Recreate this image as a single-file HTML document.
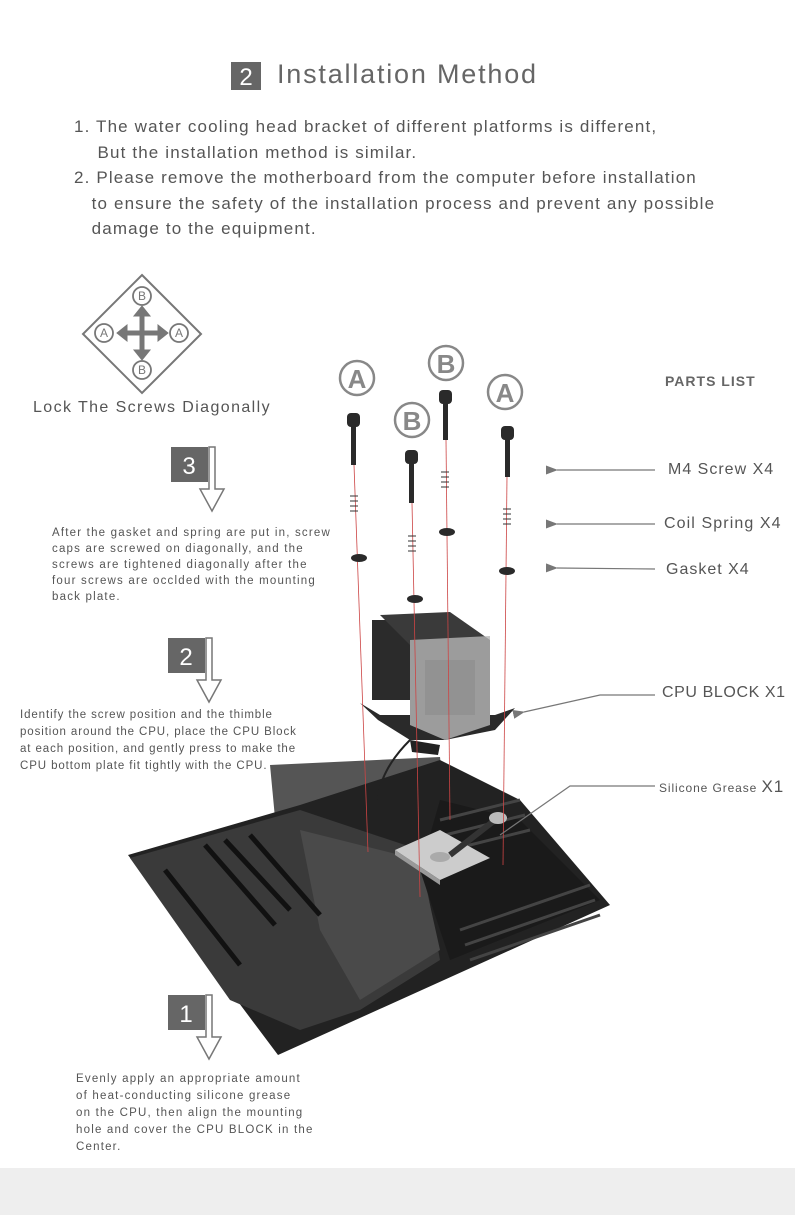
<!DOCTYPE html>
<html><head><meta charset="utf-8"><style>
body{margin:0;width:795px;height:1215px;background:#fff;position:relative;overflow:hidden;font-family:"Liberation Sans",sans-serif;color:#555}
.t{position:absolute;white-space:nowrap}
</style></head><body>
<svg width="795" height="1215" style="position:absolute;left:0;top:0">
<defs><marker id="ah" markerWidth="12" markerHeight="9" refX="1" refY="4.5" orient="auto" markerUnits="userSpaceOnUse"><path d="M12,0 L0,4.5 L12,9 Z" fill="#777"/></marker></defs>
<rect x="231" y="62" width="30" height="28" fill="#666"/>
<text x="246" y="85" font-size="24" fill="#fff" text-anchor="middle" font-family="Liberation Sans">2</text>
<!-- diamond -->
<polygon points="142,275 201,334 142,393 83,334" fill="none" stroke="#777" stroke-width="2"/>
<g stroke="#777" fill="#777"><line x1="124" y1="333" x2="161" y2="333" stroke-width="5"/><line x1="142" y1="314" x2="142" y2="352" stroke-width="5"/>
<polygon points="117,333 127,325 127,341"/><polygon points="168,333 158,325 158,341"/><polygon points="142,306 134,316 150,316"/><polygon points="142,360 134,350 150,350"/></g>
<g fill="#fff" stroke="#777" stroke-width="1.8"><circle cx="142" cy="296" r="9"/><circle cx="142" cy="370" r="9"/><circle cx="104" cy="333" r="9"/><circle cx="179" cy="333" r="9"/></g>
<g fill="#777" font-size="12" text-anchor="middle"><text x="142" y="300">B</text><text x="142" y="374">B</text><text x="104" y="337">A</text><text x="179" y="337">A</text></g>
<!-- step boxes -->
<g fill="#666"><rect x="171" y="447" width="37" height="35"/><rect x="168" y="638" width="37" height="35"/><rect x="168" y="995" width="37" height="35"/></g>
<g fill="none" stroke="#777" stroke-width="1.5">
<path d="M209,447 H215 V489 H224 L212,511 L200,489 H209 Z"/>
<path d="M206,638 H212 V680 H221 L209,702 L197,680 H206 Z"/>
<path d="M206,995 H212 V1037 H221 L209,1059 L197,1037 H206 Z"/></g>
<g fill="#fff" font-size="24" text-anchor="middle"><text x="189" y="474">3</text><text x="186" y="665">2</text><text x="186" y="1022">1</text></g>
<!-- motherboard -->
<polygon points="270,765 440,757 445,805 275,818" fill="#555"/>
<polygon points="128,855 300,805 440,760 520,800 610,905 278,1055" fill="#222"/>
<polygon points="130,858 300,810 420,850 440,960 360,1010 300,1030 230,1000" fill="#3a3a3a"/>
<polygon points="300,830 420,860 440,950 360,1000 320,930" fill="#4a4a4a"/>
<polygon points="440,800 520,820 600,900 450,960 420,870" fill="#1a1a1a"/>
<g stroke="#444" stroke-width="3"><line x1="440" y1="820" x2="520" y2="800"/><line x1="445" y1="835" x2="525" y2="815"/><line x1="450" y1="850" x2="530" y2="830"/><line x1="460" y1="930" x2="590" y2="885"/><line x1="465" y1="945" x2="595" y2="900"/><line x1="470" y1="960" x2="600" y2="915"/></g>
<g stroke="#111" stroke-width="5"><line x1="205" y1="845" x2="275" y2="925"/><line x1="225" y1="840" x2="290" y2="910"/><line x1="250" y1="835" x2="320" y2="915"/><line x1="165" y1="870" x2="240" y2="965"/></g>
<polygon points="395,850 440,830 490,858 440,880" fill="#ccc"/>
<polygon points="395,850 440,880 440,885 395,855" fill="#999"/>
<ellipse cx="440" cy="857" rx="10" ry="5" fill="#aaa"/>
<line x1="450" y1="855" x2="495" y2="820" stroke="#333" stroke-width="6"/>
<ellipse cx="498" cy="818" rx="9" ry="6" fill="#bbb"/>
<!-- cpu block -->
<polygon points="360,703 380,715 495,715 515,708 495,730 445,740 410,740 378,720" fill="#2a2a2a"/>
<rect x="372" y="620" width="40" height="80" fill="#2b2b2b"/>
<polygon points="380,615 450,612 490,640 490,725 445,740 410,725 410,645" fill="#3a3a3a"/>
<polygon points="410,640 490,636 490,725 445,740 410,725" fill="#b5b5b5" opacity="0.8"/>
<rect x="425" y="660" width="50" height="55" fill="#888" opacity="0.5"/>
<polygon points="410,740 440,745 438,755 412,752" fill="#222"/>
<path d="M410,740 Q380,770 378,800" stroke="#222" stroke-width="2" fill="none"/>
<!-- red lines -->
<g stroke="#c44" stroke-width="0.8"><line x1="354" y1="465" x2="368" y2="852"/><line x1="412" y1="503" x2="420" y2="897"/><line x1="446" y1="440" x2="450" y2="820"/><line x1="507" y1="476" x2="503" y2="865"/></g>
<!-- screws -->
<g fill="#2a2a2a">
<rect x="347" y="413" width="13" height="14" rx="4"/><rect x="351" y="427" width="5" height="38"/>
<rect x="405" y="450" width="13" height="14" rx="4"/><rect x="409" y="464" width="5" height="39"/>
<rect x="439" y="390" width="13" height="14" rx="4"/><rect x="443" y="404" width="5" height="36"/>
<rect x="501" y="426" width="13" height="14" rx="4"/><rect x="505" y="440" width="5" height="37"/>
<ellipse cx="359" cy="558" rx="8" ry="4"/><ellipse cx="415" cy="599" rx="8" ry="4"/><ellipse cx="447" cy="532" rx="8" ry="4"/><ellipse cx="507" cy="571" rx="8" ry="4"/></g>
<g fill="none" stroke="#333" stroke-width="1">
<path d="M350,496 h8 M350,501 h8 M350,506 h8 M350,511 h8"/><path d="M408,536 h8 M408,541 h8 M408,546 h8 M408,551 h8"/><path d="M441,472 h8 M441,477 h8 M441,482 h8 M441,487 h8"/><path d="M503,509 h8 M503,514 h8 M503,519 h8 M503,524 h8"/></g>
<g fill="none" stroke="#888" stroke-width="2.5"><circle cx="357" cy="378" r="17"/><circle cx="412" cy="420" r="17"/><circle cx="446" cy="363" r="17"/><circle cx="505" cy="392" r="17"/></g>
<g fill="#888" font-size="26" font-weight="bold" text-anchor="middle"><text x="357" y="388">A</text><text x="412" y="430">B</text><text x="446" y="373">B</text><text x="505" y="402">A</text></g>
<!-- pointers -->
<g stroke="#777" stroke-width="1.2" fill="none">
<line x1="655" y1="470" x2="557" y2="470" marker-end="url(#ah)"/>
<line x1="655" y1="524" x2="557" y2="524" marker-end="url(#ah)"/>
<line x1="655" y1="569" x2="557" y2="568" marker-end="url(#ah)"/>
<polyline points="655,695 600,695 524,712" marker-end="url(#ah)"/>
<polyline points="655,786 570,786 500,835"/></g>
<rect x="0" y="1168" width="795" height="47" fill="#eeeeee"/>
</svg>
<div class="t" style="left:277px;top:59px;font-size:27px;color:#666;letter-spacing:1.8px">Installation Method</div>
<div class="t" style="left:74px;top:114px;font-size:17px;line-height:25.5px;color:#555;letter-spacing:1.15px">1. The water cooling head bracket of different platforms is different,<br>&nbsp;&nbsp;&nbsp;&nbsp;But the installation method is similar.<br>2. Please remove the motherboard from the computer before installation<br>&nbsp;&nbsp;&nbsp;to ensure the safety of the installation process and prevent any possible<br>&nbsp;&nbsp;&nbsp;damage to the equipment.</div>
<div class="t" style="left:33px;top:399px;font-size:16px;color:#555;letter-spacing:1.4px">Lock The Screws Diagonally</div>
<div class="t" style="left:52px;top:525px;font-size:11.5px;line-height:16px;color:#555;letter-spacing:1.2px">After the gasket and spring are put in, screw<br>caps are screwed on diagonally, and the<br>screws are tightened diagonally after the<br>four screws are occlded with the mounting<br>back plate.</div>
<div class="t" style="left:20px;top:707px;font-size:11.5px;line-height:17px;color:#555;letter-spacing:0.9px">Identify the screw position and the thimble<br>position around the CPU, place the CPU Block<br>at each position, and gently press to make the<br>CPU bottom plate fit tightly with the CPU.</div>
<div class="t" style="left:76px;top:1071px;font-size:11.5px;line-height:17px;color:#555;letter-spacing:1.2px">Evenly apply an appropriate amount<br>of heat-conducting silicone grease<br>on the CPU, then align the mounting<br>hole and cover the CPU BLOCK in the<br>Center.</div>
<div class="t" style="left:665px;top:373px;font-size:14px;font-weight:bold;color:#666;letter-spacing:1px">PARTS LIST</div>
<div class="t" style="left:668px;top:461px;font-size:16px;color:#555;letter-spacing:1px">M4 Screw X4</div>
<div class="t" style="left:664px;top:515px;font-size:16px;color:#555;letter-spacing:1.1px">Coil Spring X4</div>
<div class="t" style="left:666px;top:561px;font-size:16px;color:#555;letter-spacing:1px">Gasket X4</div>
<div class="t" style="left:662px;top:684px;font-size:16px;color:#555;letter-spacing:0.6px">CPU BLOCK X1</div>
<div class="t" style="left:659px;top:777px;font-size:12px;color:#555;letter-spacing:0.9px">Silicone Grease <span style="font-size:17px">X1</span></div>
</body></html>
